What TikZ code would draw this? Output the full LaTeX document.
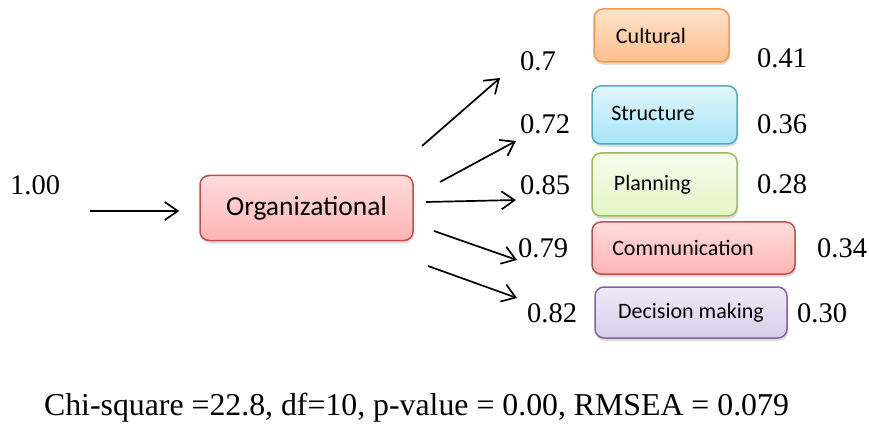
\documentclass[tikz,border=0pt]{standalone}
\usepackage{fontspec}
\setmainfont{Liberation Serif}
\newfontfamily\boxfont{Carlito}
\usetikzlibrary{arrows.meta,shadows}
\definecolor{orBorder}{HTML}{F79646}
\definecolor{orTop}{HTML}{FFE3CC}
\definecolor{orBot}{HTML}{FFBE8C}
\definecolor{blBorder}{HTML}{4BACC6}
\definecolor{blTop}{HTML}{E2F7FD}
\definecolor{blBot}{HTML}{A6E5F8}
\definecolor{grBorder}{HTML}{9BBB59}
\definecolor{grTop}{HTML}{F6FCEC}
\definecolor{grBot}{HTML}{E3F5C6}
\definecolor{rdBorder}{HTML}{C0504D}
\definecolor{rdTop}{HTML}{FFDCDC}
\definecolor{rdBot}{HTML}{FFB4B4}
\definecolor{puBorder}{HTML}{8064A2}
\definecolor{puTop}{HTML}{F0EAF7}
\definecolor{puBot}{HTML}{D9CCEA}
\begin{document}
\begin{tikzpicture}[x=1pt,y=-1pt,
  num/.style={font=\fontsize{28.5}{32}\selectfont, inner sep=0pt},
  fac/.style={rounded corners=9pt, line width=1.5pt, inner sep=0pt,
    font=\boxfont\fontsize{22}{24}\selectfont,
    drop shadow={shadow xshift=1pt, shadow yshift=-3pt, opacity=0.25}},
  arr/.style={-{Straight Barb[length=13pt,width=18pt]}, line width=1.7pt},
]
\useasboundingbox (0,0) rectangle (869,430);

% factor boxes
\node[fac, draw=orBorder, top color=orTop, bottom color=orBot,
  minimum width=135pt, minimum height=53pt] (cul) at (661.5,35.5) {Cultural\kern21pt};
\node[fac, draw=blBorder, top color=blTop, bottom color=blBot,
  minimum width=145pt, minimum height=58pt] (str) at (664.5,115) {\raisebox{3pt}{Structure}\kern23pt};
\node[fac, draw=grBorder, top color=grTop, bottom color=grBot,
  minimum width=145pt, minimum height=63pt] (pla) at (664.5,184.5) {\raisebox{4pt}{Planning}\kern24pt};
\node[fac, draw=rdBorder, top color=rdTop, bottom color=rdBot,
  minimum width=203pt, minimum height=52pt] (com) at (693.5,248) {Communication\kern21pt};
\node[fac, draw=puBorder, top color=puTop, bottom color=puBot,
  minimum width=192pt, minimum height=51pt] (dec) at (691,312.5) {Decision making};
\node[fac, draw=rdBorder, top color=rdTop, bottom color=rdBot,
  font=\boxfont\fontsize{27.5}{30}\selectfont,
  minimum width=213pt, minimum height=65pt] (org) at (306.5,208) {Organizational};

% loadings
\node[num, anchor=west] (l1) at (520,61) {0.7};
\node[num, anchor=west] (l2) at (520,124) {0.72};
\node[num, anchor=west] (l3) at (520,185) {0.85};
\node[num, anchor=west] (l4) at (518,248) {0.79};
\node[num, anchor=west] (l5) at (527,313) {0.82};
% errors
\node[num, anchor=west] (r1) at (757,58) {0.41};
\node[num, anchor=west] (r2) at (757,124) {0.36};
\node[num, anchor=west] (r3) at (757,184) {0.28};
\node[num, anchor=west] (r4) at (817,248) {0.34};
\node[num, anchor=west] (r5) at (797,313) {0.30};
\node[num, anchor=west] (in) at (10,185) {1.00};

% fit statistics
\node[num, font=\fontsize{31.8}{34}\selectfont] (fit) at (416.5,408) {Chi-square =22.8, df=10, p-value = 0.00, RMSEA = 0.079};

% arrows
\coordinate (s0) at (90,211);
\draw[arr, shorten >=20pt] (s0) -- (org.west |- s0);

\coordinate (s1) at (422,146); \coordinate (e1) at (500,78);
\coordinate (s2) at (440,182); \coordinate (e2) at (516,141);
\coordinate (s3) at (426,202); \coordinate (e3) at (516,200);
\coordinate (s4) at (434,231); \coordinate (e4) at (517,260);
\coordinate (s5) at (428,266); \coordinate (e5) at (517,298);
\draw[arr] (s1) -- (e1);
\draw[arr] (s2) -- (e2);
\draw[arr] (s3) -- (e3);
\draw[arr] (s4) -- (e4);
\draw[arr] (s5) -- (e5);
\end{tikzpicture}
\end{document}
